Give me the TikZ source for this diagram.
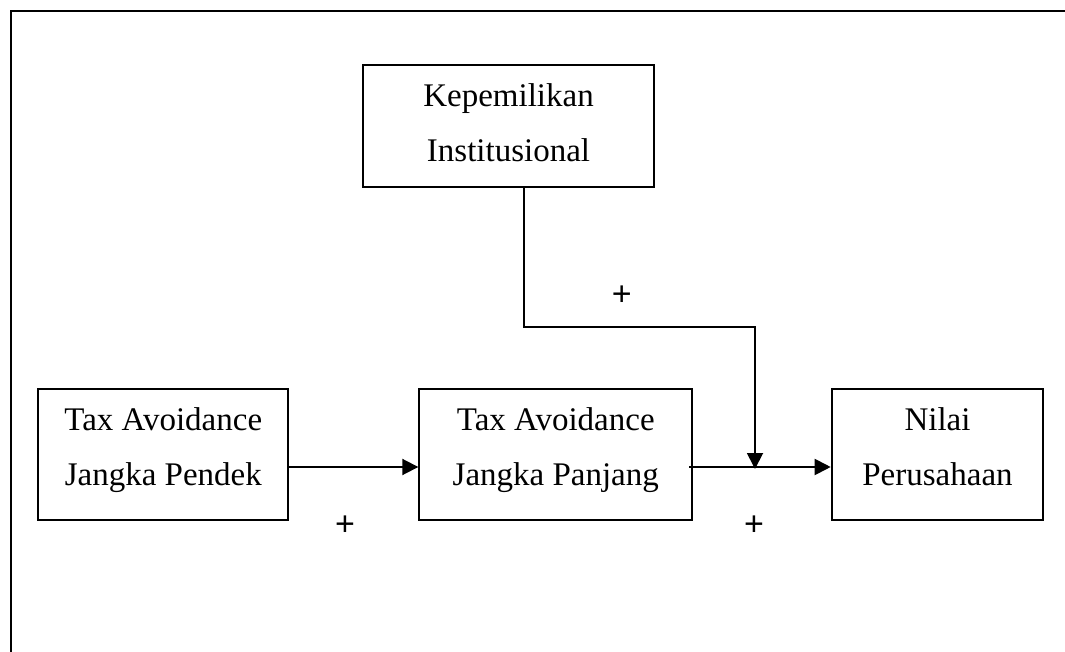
\documentclass[tikz,border=0pt]{standalone}
\usepackage{fontspec}
\setmainfont{Liberation Serif}
\newfontfamily\plusfont{Liberation Sans}
\usetikzlibrary{arrows.meta}

% struts that fix the text position inside the boxes
\newcommand{\uprule}{\rule{0pt}{32pt}}
\newcommand{\downrule}[1]{\rule[-#1]{0pt}{#1}}

\begin{document}
\begin{tikzpicture}[
    x=1pt, y=-1pt,
    box/.style={rectangle, draw, line width=2pt, inner sep=0pt, align=center,
        font=\fontsize{33}{55}\selectfont},
    sign/.style={font=\plusfont\fontsize{34}{40}\selectfont, inner sep=0pt},
    arrow/.style={-{Triangle[length=16pt, width=16pt]}, line width=1.9pt}
]
    \useasboundingbox (0,0) rectangle (1065,652);

    % Frame (cut off at right and bottom)
    \draw[line width=2pt] (1065,11) -- (11,11) -- (11,652);

    % Variables
    \node[box, minimum width=291pt, minimum height=122pt] (inst) at (508.5,126)
        {\uprule Kepemilikan\\Institusional\downrule{16pt}};
    \node[box, minimum width=250pt, minimum height=131pt] (pendek) at (163.3,454.7)
        {\uprule Tax Avoidance\\Jangka Pendek\downrule{25pt}};
    \node[box, minimum width=273pt, minimum height=131pt] (panjang) at (555.8,454.7)
        {\uprule Tax Avoidance\\Jangka Panjang\downrule{25pt}};
    \node[box, minimum width=211.6pt, minimum height=131pt] (nilai) at (937.5,454.7)
        {\uprule Nilai\\Perusahaan\downrule{25pt}};

    % Connectors
    \coordinate (bend) at (755,327);
    \coordinate (join) at (755,467);
    \draw[arrow] ([yshift=-12.3pt]pendek.east) -- ([yshift=-12.3pt]panjang.west);
    \draw[arrow] ([xshift=-4pt, yshift=-12.3pt]panjang.east) -- ([yshift=-12.3pt]nilai.west);
    \draw[arrow] ([xshift=15.5pt]inst.south) |- (bend) -- ([yshift=-2pt]join);

    % Signs
    \node[sign] (s1) at (621.7,296) {+};
    \node[sign] (s2) at (345,526) {+};
    \node[sign] (s3) at (754,526) {+};
\end{tikzpicture}
\end{document}
